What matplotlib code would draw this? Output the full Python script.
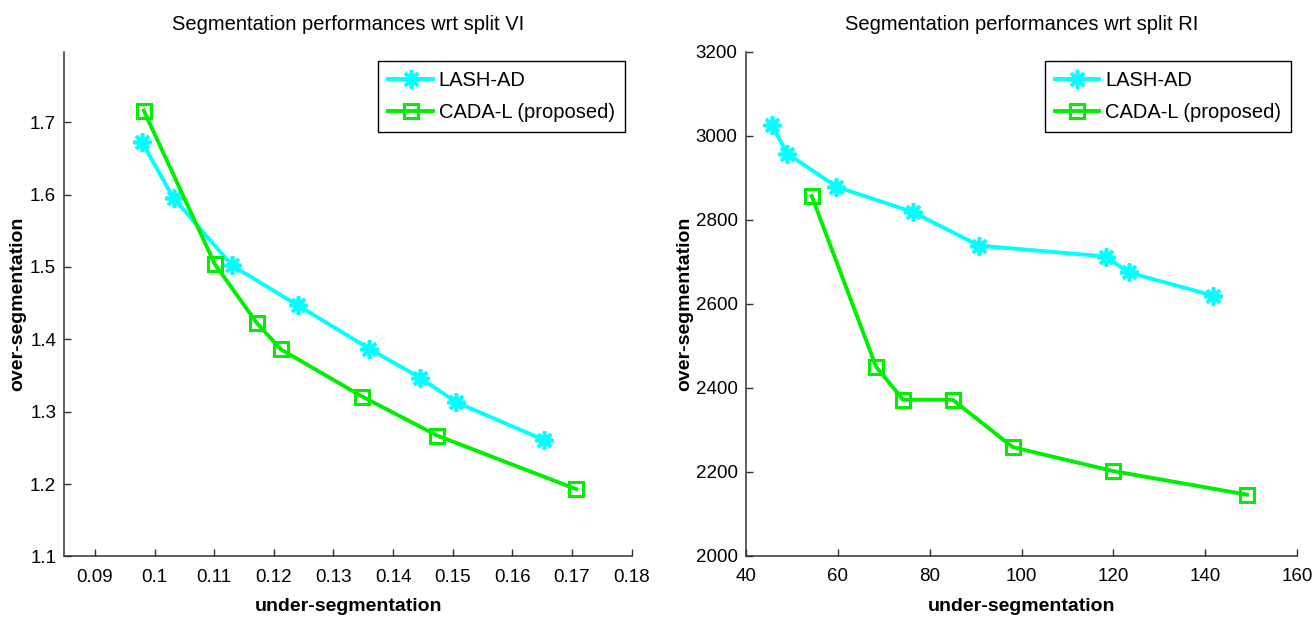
import matplotlib
matplotlib.use('Agg')
import matplotlib.pyplot as plt

plt.rcParams['font.family'] = ['Liberation Sans', 'DejaVu Sans']

# split VI
vi_lash_x = [0.0979, 0.1032, 0.1130, 0.1240, 0.1360, 0.1445, 0.1506, 0.1653]
vi_lash_y = [1.672, 1.595, 1.502, 1.447, 1.387, 1.347, 1.313, 1.261]
vi_cada_x = [0.0982, 0.1101, 0.1172, 0.1212, 0.1348, 0.1474, 0.1707]
vi_cada_y = [1.716, 1.504, 1.422, 1.386, 1.321, 1.267, 1.193]

# split RI
ri_lash_x = [45.6, 49.0, 59.7, 76.3, 90.7, 118.4, 123.3, 141.7]
ri_lash_y = [3026, 2958, 2879, 2819, 2739, 2713, 2675, 2620]
ri_cada_x = [54.3, 68.3, 74.2, 85.0, 98.1, 120.0, 149.1]
ri_cada_y = [2857, 2451, 2372, 2372, 2259, 2202, 2146]

series_labels = ['LASH-AD', 'CADA-L (proposed)']
vi_xticks = [0.09, 0.1, 0.11, 0.12, 0.13, 0.14, 0.15, 0.16, 0.17, 0.18]
vi_xticklabels = ['0.09', '0.1', '0.11', '0.12', '0.13', '0.14', '0.15', '0.16', '0.17', '0.18']
vi_yticks = [1.1, 1.2, 1.3, 1.4, 1.5, 1.6, 1.7]
ri_xticks = [40, 60, 80, 100, 120, 140, 160]
ri_yticks = [2000, 2200, 2400, 2600, 2800, 3000, 3200]

CYAN = '#00ffff'
GREEN = '#00ee00'
STAR = (8, 2, 0)


def draw_panel(ax, lash, cada, title, xlim, ylim, xticks, yticks, xticklabels=None,
               legend_anchor=(0.99, 0.98), ylabelpad=6):
    ax.plot(lash[0], lash[1], color=CYAN, lw=2.8, marker=STAR, ms=13, mew=2.6,
            label=series_labels[0])
    ax.plot(cada[0], cada[1], color=GREEN, lw=2.8, marker='s', ms=10.5, mew=2.2,
            mfc='none', label=series_labels[1])
    ax.set_xlim(*xlim)
    ax.set_ylim(*ylim)
    ax.set_xticks(xticks)
    if xticklabels is not None:
        ax.set_xticklabels(xticklabels)
    ax.set_yticks(yticks)
    ax.spines['top'].set_visible(False)
    ax.spines['right'].set_visible(False)
    for side in ('left', 'bottom'):
        ax.spines[side].set_color('#333333')
        ax.spines[side].set_linewidth(1.1)
    ax.tick_params(direction='in', length=5, width=1, colors='#333333',
                   labelcolor='black', labelsize=13.5)
    ax.tick_params(axis='x', pad=9)
    ax.tick_params(axis='y', pad=6)
    ax.set_title(title, fontsize=14.5, pad=16)
    ax.set_xlabel('under-segmentation', fontsize=14, fontweight='bold', labelpad=9)
    ax.set_ylabel('over-segmentation', fontsize=14, fontweight='bold', labelpad=ylabelpad)
    leg = ax.legend(loc='upper right', bbox_to_anchor=legend_anchor, borderaxespad=0,
                    fancybox=False, framealpha=1, edgecolor='black', fontsize=14.5,
                    handlelength=2.2, handletextpad=0.3, borderpad=0.5, labelspacing=0.62)
    leg.get_frame().set_linewidth(1.0)


fig = plt.figure(figsize=(13.16, 6.17), dpi=100)
ax1 = fig.add_axes([0.0490, 0.0981, 0.4310, 0.8177])
ax2 = fig.add_axes([0.5669, 0.0989, 0.4187, 0.8169])

draw_panel(ax1, (vi_lash_x, vi_lash_y), (vi_cada_x, vi_cada_y),
           'Segmentation performances wrt split VI',
           (0.0849, 0.18), (1.1, 1.797), vi_xticks, vi_yticks, vi_xticklabels,
           legend_anchor=(0.988, 0.982), ylabelpad=3)
draw_panel(ax2, (ri_lash_x, ri_lash_y), (ri_cada_x, ri_cada_y),
           'Segmentation performances wrt split RI',
           (40, 160), (2000, 3200), ri_xticks, ri_yticks,
           legend_anchor=(0.989, 0.982), ylabelpad=2)

fig.savefig('out.png', dpi=100)
